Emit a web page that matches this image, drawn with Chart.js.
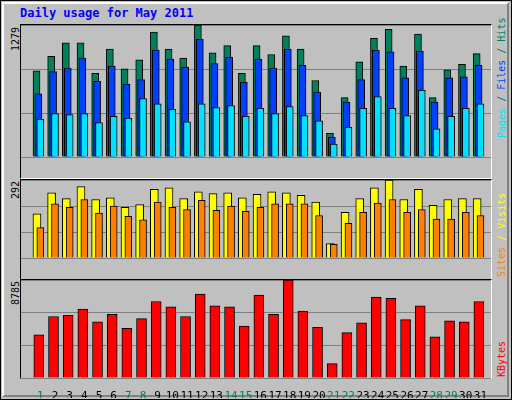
<!DOCTYPE html>
<html>
<head>
<meta charset="utf-8">
<script src="https://cdn.jsdelivr.net/npm/chart.js@4"></script>
<style>
  body { margin: 0; background: #fff; }
  #frame { position: absolute; left: 0; top: 0; width: 510px; height: 398px; background: #c0c0c0; border: 1px solid #000; }
  #inner { position: absolute; left: 1px; top: 1px; width: 503px; height: 391px;
    border-top: 2px solid #fff; border-left: 2px solid #fff; border-right: 2px solid #808080; border-bottom: 2px solid #808080; }
  .box { position: absolute; left: 20px; width: 470px; border-top: 1px solid #000; border-left: 1px solid #000;
    border-right: 1px solid #fff; border-bottom: 1px solid #fff; }
  canvas { position: absolute; }
  .t { position: absolute; font-family: "DejaVu Sans Mono", monospace; font-size: 12px; white-space: nowrap; }
  .rot { transform-origin: 0 0; transform: rotate(-90deg); font-size: 10px; }
</style>
</head>
<body>
<div id="frame"><div id="inner"></div></div>
<div class="box" style="top:24px;height:153px"></div>
<div class="box" style="top:179px;height:99px"></div>
<div class="box" style="top:279px;height:98px"></div>
<div class="t" style="left:20px;top:6px;color:#0000ff;font-weight:bold">Daily usage for May 2011</div>
<div id="m1" class="t rot" style="left:10px;top:51px;color:#000"></div>
<div id="m2" class="t rot" style="left:10px;top:199px;color:#000"></div>
<div id="m3" class="t rot" style="left:10px;top:305px;color:#000"></div>
<div class="t rot" style="left:496px;top:138px"><span style="color:#00e0ff">Pages</span><span style="color:#00805c"> / </span><span style="color:#0040ff">Files</span><span style="color:#00805c"> / Hits</span></div>
<div class="t rot" style="left:496px;top:277px"><span style="color:#ff8000">Sites</span><span style="color:#ffff00"> / Visits</span></div>
<div class="t rot" style="left:496px;top:377px;color:#ff0000">KBytes</div>
<canvas id="c1" style="left:21px;top:25px" width="470" height="152"></canvas>
<canvas id="c2" style="left:21px;top:180px" width="470" height="98"></canvas>
<canvas id="c3" style="left:21px;top:280px" width="470" height="118"></canvas>
<script>
const days = Array.from({ length: 31 }, (_, i) => i + 1);
const weekends = [1, 7, 8, 14, 15, 21, 22, 28, 29];
const hits = [836, 975, 1106, 1106, 810, 1045, 854, 941, 1210, 1045, 958, 1279, 1010, 1079, 810, 1079, 993, 1175, 1045, 741, 229, 576, 923, 1149, 1236, 880, 1192, 576, 845, 897, 1001];
const files = [611, 828, 862, 958, 732, 880, 706, 750, 1036, 949, 871, 1140, 906, 967, 724, 949, 862, 1045, 888, 628, 194, 532, 750, 1036, 1019, 767, 1027, 532, 767, 776, 888];
const pages = [368, 420, 411, 420, 333, 394, 376, 567, 515, 463, 341, 515, 480, 498, 394, 472, 420, 489, 402, 350, 124, 289, 472, 585, 472, 402, 645, 272, 394, 472, 515];
const visits = [165, 244, 222, 267, 219, 225, 190, 200, 257, 263, 222, 248, 241, 244, 225, 238, 248, 244, 235, 209, 54, 171, 222, 263, 292, 219, 257, 197, 219, 222, 222];
const sites = [114, 203, 190, 219, 168, 194, 156, 143, 209, 190, 181, 216, 178, 194, 175, 190, 203, 203, 203, 159, 51, 130, 171, 206, 219, 171, 181, 146, 146, 171, 159];
const kbytes = [3879, 5514, 5611, 6188, 5034, 5707, 4456, 5322, 6861, 6380, 5514, 7534, 6476, 6380, 4649, 7438, 5707, 8785, 5995, 4553, 1282, 4072, 4937, 7246, 7149, 5226, 6476, 3687, 5130, 5034, 6861];

// Chart.js paints the first dataset last (on top), so lists go front-to-back
function series(vals, shift, color, width) {
  return {
    data: vals.map((v, i) => ({ x: days[i] + shift, y: v })),
    backgroundColor: color, borderColor: '#000', borderWidth: 1,
    barThickness: width, grouped: false, borderSkipped: 'bottom'
  };
}

function makeChart(id, datasets, max, showX) {
  new Chart(document.getElementById(id), {
    type: 'bar',
    data: { datasets },
    options: {
      responsive: false, animation: false,
      layout: { padding: 0 },
      plugins: { legend: { display: false }, tooltip: { enabled: false } },
      scales: {
        x: {
          type: 'linear', min: 0.2, max: 31.2, display: showX,
          afterBuildTicks: (s) => { s.ticks = days.map(d => ({ value: d })); },
          afterFit: (s) => { s.height = 20; },
          grid: { display: false }, border: { display: false },
          ticks: {
            autoSkip: false, maxRotation: 0, padding: 4,
            font: { family: 'DejaVu Sans Mono', size: 11 },
            color: (ctx) => weekends.includes(ctx.tick.value) ? '#00805c' : '#000'
          }
        },
        y: {
          min: 0, max: max,
          afterFit: (s) => { s.width = 0; },
          ticks: { display: false, stepSize: max / 3 },
          grid: { color: '#808080', drawTicks: false },
          border: { display: false }
        }
      }
    }
  });
}

const max1 = Math.max(...hits), max2 = Math.max(...visits), max3 = Math.max(...kbytes);
document.getElementById('m1').textContent = max1;
document.getElementById('m2').textContent = max2;
document.getElementById('m3').textContent = max3;

makeChart('c1', [
  series(pages, 0, '#00e0ff', 7),
  series(files, -0.13, '#0040ff', 7),
  series(hits, -0.26, '#00805c', 7)
], max1, false);
makeChart('c2', [
  series(sites, 0, '#ff8000', 7),
  series(visits, -0.23, '#ffff00', 8)
], max2, false);
makeChart('c3', [series(kbytes, -0.1, '#ff0000', 10)], max3, true);
</script>
</body>
</html>
